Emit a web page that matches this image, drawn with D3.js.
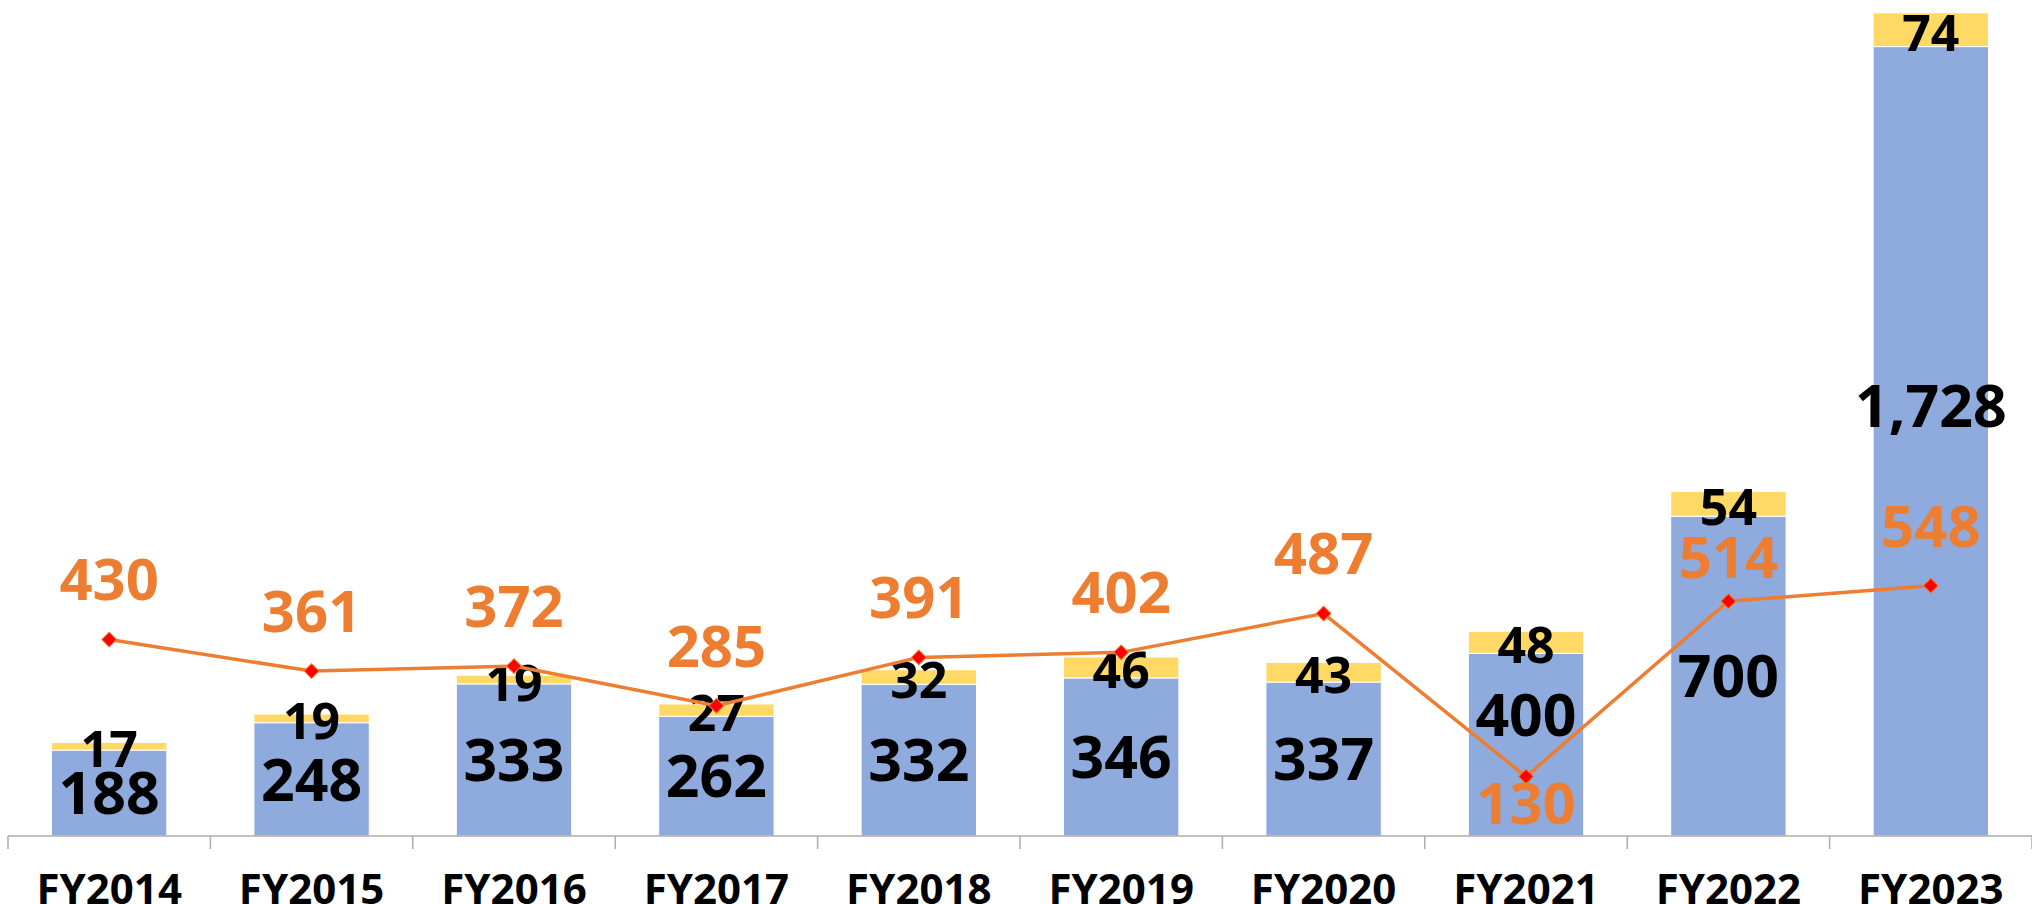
<!DOCTYPE html>
<html>
<head>
<meta charset="utf-8">
<script src="https://cdn.jsdelivr.net/npm/d3@7"></script>
<style>
	html, body {
		margin: 0;
		padding: 0;
		background: #fff;
	}
	svg text {
		font-family: 'Noto Sans', sans-serif;
		font-weight: 700;
	}
</style>
</head>
<body>
<div class="chart-holder"></div>
<script>
var years = ['FY2014', 'FY2015', 'FY2016', 'FY2017', 'FY2018', 'FY2019', 'FY2020', 'FY2021', 'FY2022', 'FY2023'];
var baseValues = [188, 248, 333, 262, 332, 346, 337, 400, 700, 1728];
var topValues = [17, 19, 19, 27, 32, 46, 43, 48, 54, 74];
var lineValues = [430, 361, 372, 285, 391, 402, 487, 130, 514, 548];

initChart();

// stacked bars + line
function initChart() {
	var width = 2032;
	var height = 904;
	var axisY = 836;
	var colors = {
		base: '#8FAADC',
		top: '#FFD966',
		line: '#ED7D31',
		marker: '#FF0000',
		axis: '#ADADAD'
	};

	var svg = d3.select('.chart-holder')
		.append('svg')
		.attr('width', width)
		.attr('height', height);

	var xScale = d3.scaleBand()
		.domain(years)
		.range([8, width])
		.paddingInner(0.43)
		.paddingOuter(0.215);

	var yScale = d3.scaleLinear()
		.domain([0, 1830])
		.range([axisY, 0]);

	var bw = xScale.bandwidth();

	function cx(d) {
		return xScale(d) + bw / 2;
	}

	// bars
	var groups = svg.selectAll('.bar')
		.data(years)
		.enter()
		.append('g')
		.attr('class', 'bar');

	groups.append('rect')
		.attr('x', function(d) { return xScale(d); })
		.attr('y', function(d, i) { return yScale(baseValues[i]); })
		.attr('width', bw)
		.attr('height', function(d, i) { return yScale(0) - yScale(baseValues[i]); })
		.attr('fill', colors.base)
		.attr('stroke', '#fff')
		.attr('stroke-width', 1);

	groups.append('rect')
		.attr('x', function(d) { return xScale(d); })
		.attr('y', function(d, i) { return yScale(baseValues[i] + topValues[i]); })
		.attr('width', bw)
		.attr('height', function(d, i) { return yScale(baseValues[i]) - yScale(baseValues[i] + topValues[i]); })
		.attr('fill', colors.top)
		.attr('stroke', '#fff')
		.attr('stroke-width', 1);

	// axis line + category separators
	var step = xScale.step();
	var axis = svg.append('g').attr('class', 'x-axis');

	axis.append('line')
		.attr('x1', xScale.range()[0])
		.attr('x2', xScale.range()[1])
		.attr('y1', axisY)
		.attr('y2', axisY)
		.attr('stroke', colors.axis)
		.attr('stroke-width', 1.5);

	axis.selectAll('.tick')
		.data(d3.range(years.length + 1))
		.enter()
		.append('line')
		.attr('class', 'tick')
		.attr('x1', function(i) { return xScale.range()[0] + i * step; })
		.attr('x2', function(i) { return xScale.range()[0] + i * step; })
		.attr('y1', axisY)
		.attr('y2', axisY + 13)
		.attr('stroke', colors.axis)
		.attr('stroke-width', 1.5);

	axis.selectAll('.label')
		.data(years)
		.enter()
		.append('text')
		.attr('class', 'label')
		.attr('x', cx)
		.attr('y', 889)
		.attr('dy', '0.36em')
		.attr('text-anchor', 'middle')
		.attr('font-size', 42)
		.attr('fill', '#000')
		.text(function(d) { return d; });

	// line
	var line = d3.line()
		.x(function(d, i) { return cx(years[i]); })
		.y(function(d) { return yScale(d); });

	svg.append('path')
		.datum(lineValues)
		.attr('d', line)
		.attr('fill', 'none')
		.attr('stroke', colors.line)
		.attr('stroke-width', 3.5);

	svg.selectAll('.marker')
		.data(lineValues)
		.enter()
		.append('path')
		.attr('class', 'marker')
		.attr('d', d3.symbol().type(d3.symbolSquare).size(110))
		.attr('transform', function(d, i) {
			return 'translate(' + cx(years[i]) + ',' + yScale(d) + ') rotate(45)';
		})
		.attr('fill', colors.marker)
		.attr('stroke', colors.line)
		.attr('stroke-width', 1);

	// bar labels
	groups.append('text')
		.attr('x', function(d) { return cx(d); })
		.attr('y', function(d, i) {
			var mid = (yScale(0) + yScale(baseValues[i])) / 2;

			// moved away from the line labels
			if (i === 7) {
				mid -= 30;
			} else if (i === 9) {
				mid -= 36;
			}

			return mid;
		})
		.attr('dy', '0.36em')
		.attr('text-anchor', 'middle')
		.attr('font-size', 59)
		.attr('fill', '#000')
		.text(function(d, i) { return d3.format(',')(baseValues[i]); });

	groups.append('text')
		.attr('x', function(d) { return cx(d); })
		.attr('y', function(d, i) {
			return (yScale(baseValues[i]) + yScale(baseValues[i] + topValues[i])) / 2 + 3;
		})
		.attr('dy', '0.36em')
		.attr('text-anchor', 'middle')
		.attr('font-size', 50)
		.attr('fill', '#000')
		.text(function(d, i) { return topValues[i]; });

	// line labels
	svg.selectAll('.line-label')
		.data(lineValues)
		.enter()
		.append('text')
		.attr('class', 'line-label')
		.attr('x', function(d, i) { return cx(years[i]); })
		.attr('y', function(d, i) {
			var off = -60;

			if (i === 7) {
				off = 27;
			} else if (i === 8) {
				off = -44;
			}

			return yScale(d) + off;
		})
		.attr('dy', '0.36em')
		.attr('text-anchor', 'middle')
		.attr('font-size', 58)
		.attr('fill', colors.line)
		.text(function(d) { return d; });
}
</script>
</body>
</html>
